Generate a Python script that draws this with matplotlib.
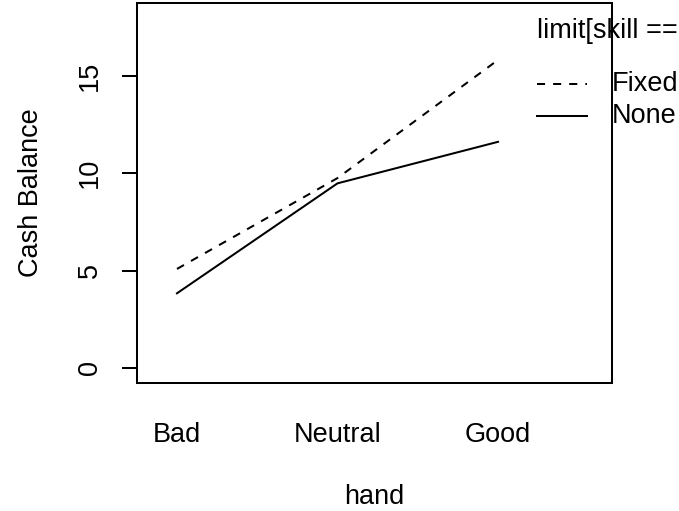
import matplotlib
matplotlib.use("Agg")
import matplotlib.pyplot as plt
from matplotlib.lines import Line2D

# Data
hand_levels = ["Bad", "Neutral", "Good"]
fixed_balance = [5.08, 9.74, 15.8]
none_balance = [3.83, 9.47, 11.6]
y_ticks = [0, 5, 10, 15]
legend_title = "limit[skill =="
legend_labels = ["Fixed", "None"]

plt.rcParams['font.family'] = ['Liberation Sans', 'DejaVu Sans']
FS = 19.5

W, H = 679, 511
fig = plt.figure(figsize=(W / 100, H / 100), dpi=100)

# Axes box in pixel terms
left, right, top, bottom = 137, 612, 3, 383
ax = fig.add_axes([left / W, 1 - bottom / H, (right - left) / W, (bottom - top) / H])

xs = list(range(1, len(hand_levels) + 1))
lw = 1.45
ax.plot(xs, fixed_balance, color='black', lw=lw, dashes=(4, 4))
ax.plot(xs, none_balance, color='black', lw=lw)

ax.set_xlim(0.751, 3.71)
ax.set_ylim(-0.77, 18.72)

ax.set_xticks(xs)
ax.set_xticklabels(hand_levels, fontsize=FS)
ax.tick_params(axis='x', length=0, pad=28)

ax.set_yticks(y_ticks)
ax.set_yticklabels([str(v) for v in y_ticks], fontsize=FS, rotation=90, va='center')
ax.tick_params(axis='y', length=10.8, width=lw, pad=14)

for s in ax.spines.values():
    s.set_linewidth(lw)

fig.text(31 / W, 1 - 193 / H, "Cash Balance", rotation=90, ha='center', va='center', fontsize=FS)
fig.text(374.5 / W, 1 - 497 / H, "hand", ha='center', va='center', fontsize=FS)

# Legend drawn at the right, as R's interaction.plot does
fig.text(537 / W, 1 - 31 / H, legend_title, ha='left', va='center', fontsize=FS)
styles = [dict(dashes=(4, 4)), dict()]
for i, (lab, st) in enumerate(zip(legend_labels, styles)):
    yy = 1 - (84 + 32 * i) / H
    fig.add_artist(Line2D([537 / W, 587 / W], [yy, yy], color='black', lw=lw,
                          transform=fig.transFigure, **st))
    fig.text(612 / W, yy, lab, ha='left', va='center', fontsize=FS)

fig.savefig("out.png", dpi=100)
